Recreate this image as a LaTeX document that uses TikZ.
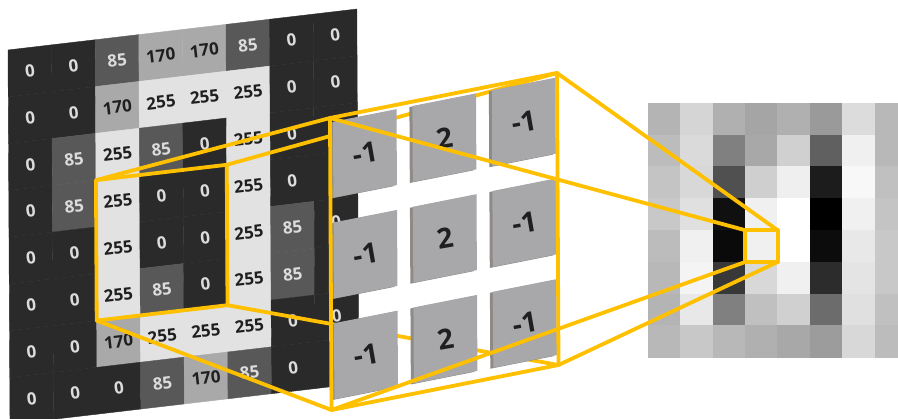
\documentclass[tikz,border=0pt]{standalone}
\usepackage{fontspec}
\setmainfont{Open Sans}
\definecolor{gold}{RGB}{255,192,0}
\definecolor{c0}{HTML}{2A2A2A}
\definecolor{c85}{HTML}{585858}
\definecolor{c170}{HTML}{A9A9A9}
\definecolor{c255}{HTML}{E2E2E2}
\definecolor{tlight}{HTML}{DCDCDC}
\definecolor{tdark}{HTML}{1F1F1F}
\definecolor{tilegray}{HTML}{A8A8AB}
\definecolor{tileside}{HTML}{8E8A86}
\begin{document}
\begin{tikzpicture}[x=1pt,y=-1pt,
  yl/.style={draw=gold,line width=3.8pt,line join=round,line cap=round},
  num/.style={font=\fontsize{17}{17}\selectfont\bfseries,rotate=6.7,inner sep=0pt},
  knum/.style={font=\fontsize{28}{28}\selectfont\bfseries,text=tdark,rotate=10,inner sep=0pt},
  cell0/.style={fill=c0,draw=c0,line width=0.4pt},
  cell85/.style={fill=c85,draw=c85,line width=0.4pt},
  cell170/.style={fill=c170,draw=c170,line width=0.4pt},
  cell255/.style={fill=c255,draw=c255,line width=0.4pt},
  tnum0/.style={text=tlight},
  tnum85/.style={text=tlight},
  tnum170/.style={text=tdark},
  tnum255/.style={text=tdark},
  gplane/.style={shift={(8,50)},x={(43.6pt,5.12pt)},y={(0.25pt,-46.8pt)}},
  kplane/.style={shift={(330,118)},x={(227pt,45pt)},y={(1.5pt,-292pt)}},
  oplane/.style={shift={(648,103)},x=32.4pt,y=-31.8pt}]
\useasboundingbox (0,0) rectangle (898,419);
\clip (0,0) rectangle (898,419);
\fill[white] (0,0) rectangle (898,419);
% ---- input image grid
\begin{scope}[gplane]
  \foreach \rowvals [count=\r from 0] in {
    {0,0,85,170,170,85,0,0},
    {0,0,170,255,255,255,0,0},
    {0,85,255,85,0,255,0,0},
    {0,85,255,0,0,255,0,0},
    {0,0,255,0,0,255,85,0},
    {0,0,255,85,0,255,85,0},
    {0,0,170,255,255,255,0,0},
    {0,0,0,85,170,85,0,0}}{
    \foreach \v [count=\c from 0] in \rowvals {
      \fill[cell\v] (\c,\r) -- ++(1,0) -- ++(0,1) -- ++(-1,0) -- cycle;
      \node[num,tnum\v] (g-\r-\c) at (\c+0.5,\r+0.5) {\v};
    }
  }
  \coordinate (rfTL) at (2,3);
  \coordinate (rfTR) at (5,3);
  \coordinate (rfBR) at (5,6);
  \coordinate (rfBL) at (2,6);
\end{scope}
% ---- output feature map
\begin{scope}[oplane]
  \foreach \rowvals [count=\r from 0] in {
    {180,213,176,165,176,154,220,184},
    {188,218,128,168,208,96,240,184},
    {196,216,80,207,239,28,248,192},
    {200,224,16,240,255,0,240,196},
    {188,240,10,240,255,12,232,200},
    {184,244,56,216,240,44,228,200},
    {180,232,128,192,208,108,224,192},
    {184,200,184,176,168,156,216,188}}{
    \foreach \v [count=\c from 0] in \rowvals {
      \definecolor{pix}{RGB}{\v,\v,\v}
      \fill[pix,draw=pix,line width=0.3pt] (\c,\r) rectangle ++(1,1);
    }
  }
  \coordinate (oTL) at (3,4);
  \coordinate (oTR) at (4,4);
  \coordinate (oBR) at (4,5);
  \coordinate (oBL) at (3,5);
\end{scope}
% ---- kernel corners
\begin{scope}[kplane]
  \coordinate (kTL) at (0,0);
  \coordinate (kTR) at (1,0);
  \coordinate (kBR) at (1,1);
  \coordinate (kBL) at (0,1);
\end{scope}
% ---- receptive field and lines behind the kernel
\draw[yl] (rfTL) -- (rfTR) -- (rfBR) -- (rfBL) -- cycle;
\draw[yl] (rfTL) -- (kTL);
\draw[yl] (rfTR) -- (kTR);
\draw[yl] (rfBR) -- (kBR);
\draw[yl] (rfBL) -- (kBL);
% ---- kernel tiles
\begin{scope}[kplane]
  \foreach \i in {0,1,2}{
    \foreach \j/\kv in {0/-1,1/2,2/-1}{
      \pgfmathsetmacro\uo{0.013+0.35*\j}
      \pgfmathsetmacro\vo{0.015+0.345*\i}
      \fill[tileside,xshift=-3pt,yshift=-1pt] (\uo,\vo) -- ++(0.28,0) -- ++(0,0.26) -- ++(-0.28,0) -- cycle;
      \fill[tilegray] (\uo,\vo) -- ++(0.28,0) -- ++(0,0.26) -- ++(-0.28,0) -- cycle;
      \node[knum] (kt-\i-\j) at (\uo+0.14,\vo+0.13) {\kv};
    }
  }
\end{scope}
% ---- kernel frame and projection to output
\draw[yl] (kTL) -- (kTR) -- (kBR) -- (kBL) -- cycle;
\draw[yl] (kTL) -- (oTL);
\draw[yl] (kTR) -- (oTR);
\draw[yl] (kBR) -- (oBR);
\draw[yl] (kBL) -- (oBL);
\draw[yl] (oTL) -- (oTR) -- (oBR) -- (oBL) -- cycle;
\end{tikzpicture}
\end{document}
